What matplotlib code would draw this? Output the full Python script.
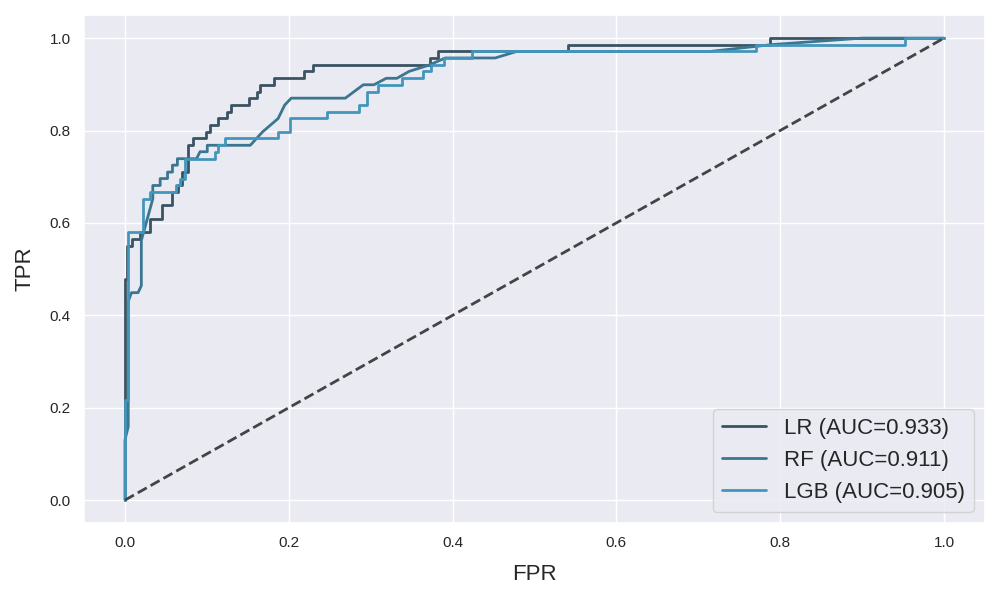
import matplotlib
matplotlib.use("Agg")
import matplotlib.pyplot as plt
import seaborn as sns

sns.set_theme(style="darkgrid")
plt.rcParams['font.family'] = ['Liberation Sans', 'DejaVu Sans']

# ROC points
lr_fpr = [0, 0, 0.003, 0.003, 0.008, 0.008, 0.018, 0.018, 0.030, 0.030, 0.045, 0.045,
          0.058, 0.058, 0.065, 0.065, 0.070, 0.070, 0.077, 0.077, 0.083, 0.083,
          0.099, 0.099, 0.104, 0.104, 0.114, 0.114, 0.125, 0.125, 0.130, 0.130,
          0.152, 0.152, 0.161, 0.161, 0.165, 0.165, 0.182, 0.182, 0.218, 0.218,
          0.230, 0.230, 0.372, 0.372, 0.382, 0.382, 0.541, 0.541, 0.788, 0.788, 1.0]
lr_tpr = [0, 0.478, 0.478, 0.551, 0.551, 0.565, 0.565, 0.580, 0.580, 0.609, 0.609, 0.638,
          0.638, 0.667, 0.667, 0.681, 0.681, 0.710, 0.710, 0.768, 0.768, 0.783,
          0.783, 0.797, 0.797, 0.812, 0.812, 0.826, 0.826, 0.841, 0.841, 0.855,
          0.855, 0.870, 0.870, 0.884, 0.884, 0.899, 0.899, 0.913, 0.913, 0.928,
          0.928, 0.942, 0.942, 0.957, 0.957, 0.971, 0.971, 0.986, 0.986, 1.0, 1.0]

rf_fpr = [0, 0, 0.004, 0.004, 0.008, 0.016, 0.020, 0.020, 0.034, 0.034, 0.043, 0.043,
          0.052, 0.052, 0.058, 0.058, 0.064, 0.064, 0.0875, 0.0916, 0.1005, 0.1005,
          0.153, 0.168, 0.187, 0.195, 0.203, 0.269, 0.291, 0.304, 0.319, 0.332,
          0.347, 0.372, 0.391, 0.452, 0.478, 0.714, 0.79, 0.90, 1.0]
rf_tpr = [0, 0.130, 0.159, 0.43, 0.449, 0.449, 0.464, 0.562, 0.652, 0.681, 0.681, 0.696,
          0.696, 0.710, 0.710, 0.725, 0.725, 0.739, 0.739, 0.754, 0.754, 0.768,
          0.768, 0.797, 0.826, 0.855, 0.870, 0.870, 0.899, 0.899, 0.913, 0.913,
          0.928, 0.942, 0.957, 0.957, 0.971, 0.971, 0.986, 1.0, 1.0]

lgb_fpr = [0, 0, 0.004, 0.004, 0.022, 0.022, 0.030, 0.030, 0.062, 0.062, 0.067, 0.067,
           0.073, 0.073, 0.110, 0.110, 0.114, 0.114, 0.122, 0.122, 0.187, 0.187,
           0.201, 0.201, 0.247, 0.247, 0.286, 0.286, 0.295, 0.295, 0.309, 0.309,
           0.338, 0.338, 0.364, 0.364, 0.374, 0.374, 0.390, 0.390, 0.424, 0.424,
           0.771, 0.771, 0.952, 0.952, 1.0]
lgb_tpr = [0, 0.217, 0.217, 0.580, 0.580, 0.652, 0.652, 0.667, 0.667, 0.681, 0.681, 0.696,
           0.696, 0.739, 0.739, 0.754, 0.754, 0.768, 0.768, 0.783, 0.783, 0.797,
           0.797, 0.826, 0.826, 0.841, 0.841, 0.855, 0.855, 0.884, 0.884, 0.899,
           0.899, 0.913, 0.913, 0.928, 0.928, 0.942, 0.942, 0.957, 0.957, 0.971,
           0.971, 0.986, 0.986, 1.0, 1.0]

labels = ["LR (AUC=0.933)", "RF (AUC=0.911)", "LGB (AUC=0.905)"]
colors = ["#3a5362", "#3b7690", "#4396bb"]

fig = plt.figure(figsize=(10, 6), dpi=100)
ax = fig.add_axes([0.084, 0.128, 0.901, 0.847])

ax.plot(lr_fpr, lr_tpr, color=colors[0], lw=2, label=labels[0])
ax.plot(rf_fpr, rf_tpr, color=colors[1], lw=2, label=labels[1])
ax.plot(lgb_fpr, lgb_tpr, color=colors[2], lw=2, label=labels[2])
ax.plot([0, 1], [0, 1], color="#444444", lw=2, linestyle="--")

ax.tick_params(labelsize=11)
ax.set_xlabel("FPR", fontsize=16, labelpad=10)
ax.set_ylabel("TPR", fontsize=16, labelpad=10)
ax.legend(loc="lower right", fontsize=16)

plt.savefig("out.png")
